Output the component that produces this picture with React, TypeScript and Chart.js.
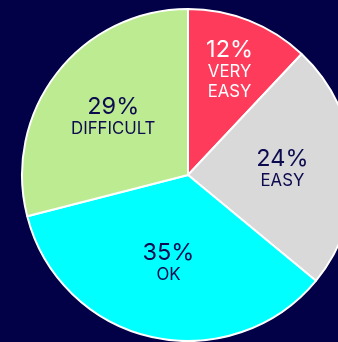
import React, { useEffect, useRef } from "react";
import { Chart, registerables } from "chart.js";

Chart.register(...registerables);

const categories = [["VERY", "EASY"], ["EASY"], ["OK"], ["DIFFICULT"]];
const values = [12, 24, 35, 29];
const percentLabels = ["12%", "24%", "35%", "29%"];
const sliceColors = ["#ff3b5c", "#d9d9d9", "#00ffff", "#bdeb92"];
const textColors = ["#ffffff", "#0d0b4f", "#0d0b4f", "#0d0b4f"];
const labelRadiusFactors = [0.68, 0.57, 0.54, 0.57];

const BG = "#020046";

const labelPlugin = {
  id: "sliceLabels",
  afterDatasetsDraw(chart: any) {
    const ctx = chart.ctx;
    const meta = chart.getDatasetMeta(0);
    meta.data.forEach((arc: any, i: number) => {
      const { x, y, startAngle, endAngle, outerRadius } = arc.getProps(
        ["x", "y", "startAngle", "endAngle", "outerRadius"],
        true
      );
      const mid = (startAngle + endAngle) / 2;
      const r = outerRadius * labelRadiusFactors[i];
      const ax = x + Math.cos(mid) * r;
      const ay = y + Math.sin(mid) * r;
      const lines = categories[i];
      const total = 24 + lines.length * 20;
      let top = ay - total / 2;
      ctx.save();
      ctx.fillStyle = textColors[i];
      ctx.textAlign = "center";
      ctx.textBaseline = "middle";
      ctx.font = "400 23.5px Inter";
      ctx.fillText(percentLabels[i], ax, top + 12);
      top += 24;
      ctx.font = "400 16.8px Inter";
      lines.forEach((ln: string) => {
        ctx.fillText(ln, ax, top + 10);
        top += 20;
      });
      ctx.restore();
    });
  },
};

export default function App() {
  const canvasRef = useRef<HTMLCanvasElement>(null);

  useEffect(() => {
    if (!canvasRef.current) return;
    const chart = new Chart(canvasRef.current, {
      type: "pie",
      data: {
        labels: categories.map((c) => c.join(" ")),
        datasets: [
          {
            data: values,
            backgroundColor: sliceColors,
            borderColor: "#ffffff",
            borderWidth: 2,
          },
        ],
      },
      options: {
        animation: false,
        responsive: true,
        maintainAspectRatio: false,
        layout: { padding: 0 },
        plugins: {
          legend: { display: false },
          tooltip: { enabled: false },
        },
      },
      plugins: [labelPlugin],
    });
    return () => chart.destroy();
  }, []);

  return (
    <div
      style={{
        position: "fixed",
        left: 0,
        top: 0,
        right: 0,
        bottom: 0,
        background: BG,
        overflow: "hidden",
      }}
    >
      <div
        style={{
          position: "absolute",
          left: 8,
          top: 8,
          width: 360,
          height: 334,
        }}
      >
        <canvas ref={canvasRef} />
      </div>
    </div>
  );
}
